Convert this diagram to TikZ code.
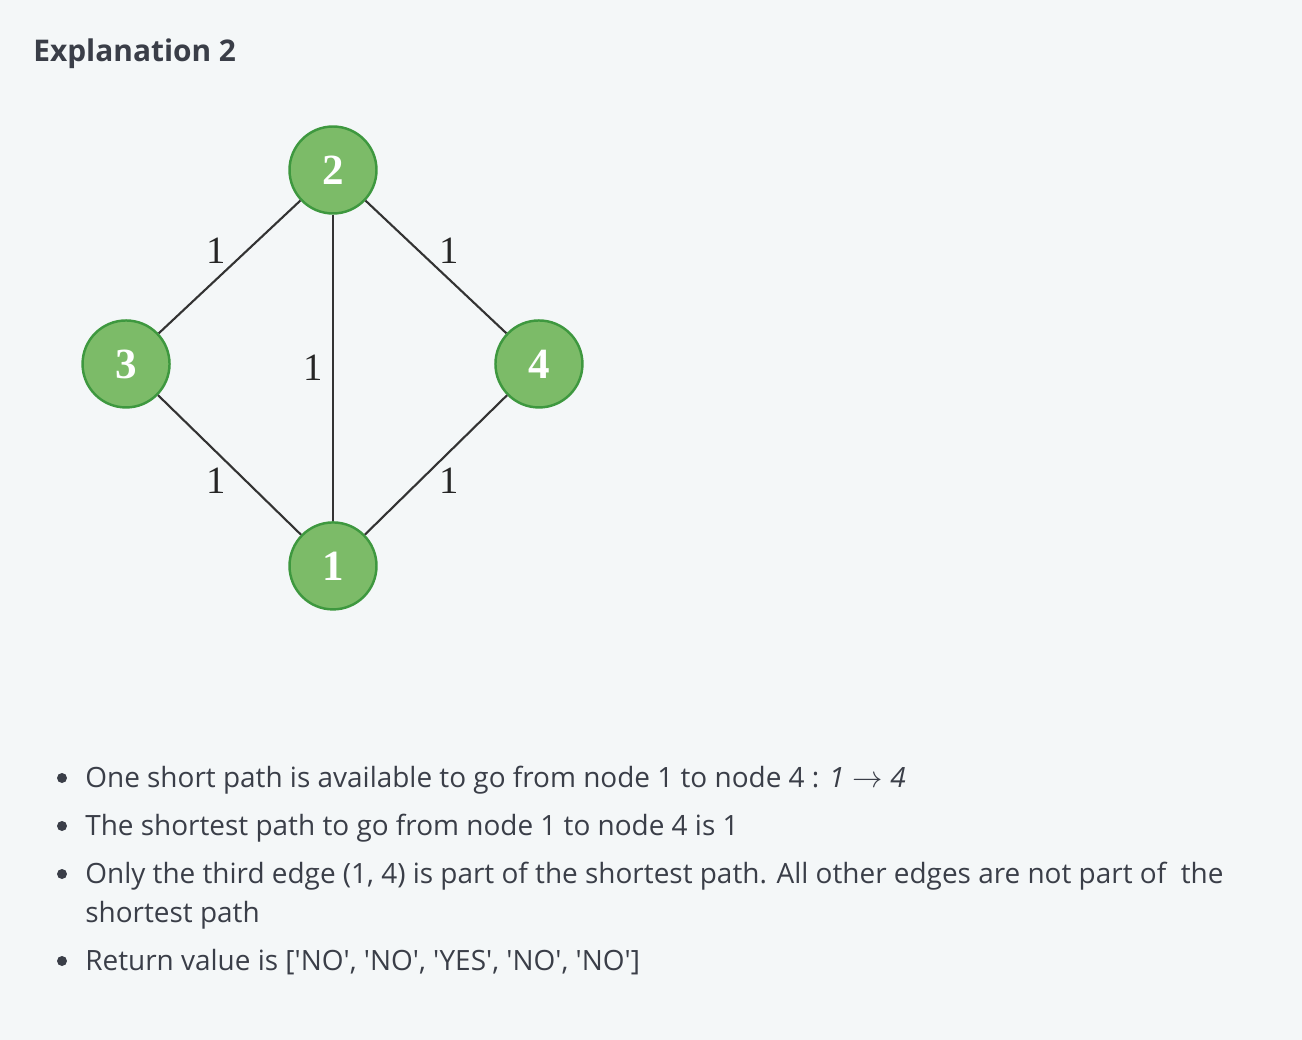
\documentclass[tikz,border=0pt]{standalone}
\usepackage{fontspec}
\setmainfont{Open Sans}
\newfontfamily\bodyfont{Open Sans}
\newfontfamily\labelfont{Liberation Serif}
\usetikzlibrary{positioning}
\definecolor{pagebg}{HTML}{F4F7F8}
\definecolor{vertfill}{HTML}{7CBB68}
\definecolor{vertline}{HTML}{3E983F}
\definecolor{inkgray}{HTML}{3A3E48}
\begin{document}
\begin{tikzpicture}[x=0.02cm, y=-0.02cm,
    node distance=3.88cm and 4.14cm, on grid,
    vert/.style={circle, draw=vertline, fill=vertfill, line width=1.4pt, minimum size=1.74cm, inner sep=0pt, text=white, font=\labelfont\bfseries\fontsize{24.5}{24.5}\selectfont},
    weight/.style={inner sep=0pt, text=black!85, font=\labelfont\fontsize{22}{22}\selectfont},
    link/.style={draw=black!80, line width=1.2pt},
    heading/.style={anchor=base west, inner sep=0pt, text=inkgray, font=\bfseries\fontsize{17}{21}\selectfont},
    item/.style={anchor=base west, inner sep=0pt, text=inkgray, font=\bodyfont\fontsize{15.9}{22}\selectfont},
    dot/.style={circle, fill=inkgray, inner sep=0pt, minimum size=0.2cm}]
\fill[pagebg] (0,0) rectangle (1302,1040);
\node[heading] (head) at (33,62) {Explanation 2};
% graph
\node[vert] (n2) at (333,170) {2};
\node[vert, below left=of n2] (n3) {3};
\node[vert, below right=3.88cm and 4.12cm of n2] (n4) {4};
\node[vert, below=7.92cm of n2] (n1) {1};
\draw[link] (n2) -- node[weight, above left=2pt] {1} (n3);
\draw[link] (n2) -- node[weight, above right=2pt] {1} (n4);
\draw[link] (n2) -- node[weight, left=5pt] {1} (n1);
\draw[link] (n3) -- node[weight, below left=2pt] {1} (n1);
\draw[link] (n4) -- node[weight, below right=2pt] {1} (n1);
% explanation
\node[dot] (d1) at (62,778) {};
\node[item] (t1) at (85,787) {One short path is available to go from node 1 to node 4 : \textit{1}\;$\rightarrow$\;\textit{4}};
\node[dot] (d2) at (62,826) {};
\node[item] (t2) at (85,835) {The shortest path to go from node 1 to node 4 is 1};
\node[dot] (d3) at (62,874) {};
\node[item] (t3) at (85,883) {Only the third edge (1, 4) is part of the shortest path. All other edges are not part of\ \ the};
\node[item] (t3b) at (85,922) {shortest path};
\node[dot] (d4) at (62,961) {};
\node[item] (t4) at (85,970) {Return value is ['NO', 'NO', 'YES', 'NO', 'NO']};
\end{tikzpicture}
\end{document}
